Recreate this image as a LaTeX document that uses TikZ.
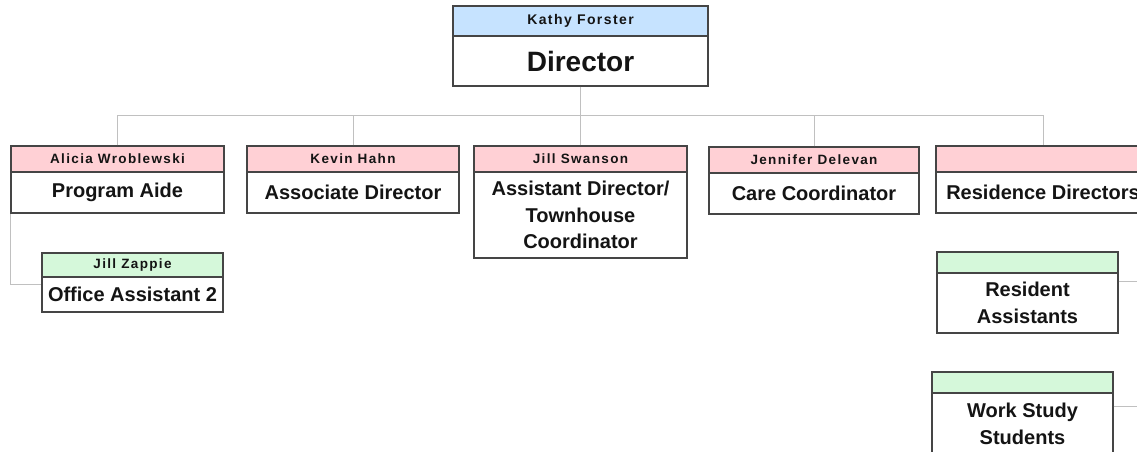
\documentclass[tikz,border=0pt]{standalone}
\usepackage{fontspec}
\setmainfont{Liberation Sans}
\newfontfamily\namefont[LetterSpace=10]{Liberation Sans}
\definecolor{hblue}{HTML}{C6E3FF}
\definecolor{hpink}{HTML}{FFD0D5}
\definecolor{hgreen}{HTML}{D5F8DA}
\definecolor{bordc}{HTML}{454545}
\definecolor{linkc}{HTML}{C0C0C0}
\definecolor{txtc}{HTML}{141414}
\tikzset{
  hdr/.style={draw=bordc, line width=1.3pt, inner sep=0pt, text=txtc,
    font=\namefont\bfseries\fontsize{13.5}{15}\selectfont},
  bodybox/.style={draw=bordc, line width=1.3pt, fill=white, inner sep=0pt, align=center, text=txtc,
    font=\bfseries\fontsize{20}{26.5}\selectfont},
  link/.style={draw=linkc, line width=1pt},
}
\newcommand\orgbox[9]{%
  \node[hdr, fill=#7, minimum width={#3-#2}, minimum height={#5-#4}] (#1-h) at ({(#2+#3)/2},{(#4+#5)/2}) {#8};
  \node[bodybox, minimum width={#3-#2}, minimum height={#6-#5}] (#1) at ({(#2+#3)/2},{(#5+#6)/2}) {#9};
}
\begin{document}
\begin{tikzpicture}[x=1pt,y=-1pt]
\useasboundingbox (0,0) rectangle (1137,451);
\clip (0,0) rectangle (1137,451);
\coordinate (bus) at (0,115);
\coordinate (raEnd) at (1140,281);
\coordinate (wsEnd) at (1140,406);
% boxes
\orgbox{dir}{453}{708}{6}{36}{86}{hblue}{\fontsize{14}{16}\selectfont Kathy Forster}{\fontsize{28}{30}\selectfont Director}
\orgbox{pa}{11}{224}{146}{172}{213}{hpink}{Alicia Wroblewski}{Program Aide}
\orgbox{ad}{247}{459}{146}{172}{213}{hpink}{Kevin Hahn}{Associate Director}
\orgbox{asd}{474}{687}{146}{172}{258}{hpink}{Jill Swanson}{Assistant Director/\\Townhouse\\Coordinator}
\orgbox{cc}{709}{919}{147}{173}{214}{hpink}{Jennifer Delevan}{Care Coordinator}
\orgbox{rd}{936}{1150}{146}{172}{213}{hpink}{}{Residence Directors}
\orgbox{oa}{42}{223}{253}{277}{312}{hgreen}{Jill Zappie}{Office Assistant 2}
\orgbox{ra}{937}{1118}{252}{273}{333}{hgreen}{}{Resident\\Assistants}
\orgbox{ws}{932}{1113}{372}{393}{455}{hgreen}{}{Work Study\\Students}
% connectors
\draw[link] (dir.south) -- (dir.south |- bus);
\draw[link] (pa-h.north) -- (pa-h.north |- bus) -- (rd-h.north |- bus) -- (rd-h.north);
\draw[link] (ad-h.north) -- (ad-h.north |- bus);
\draw[link] (asd-h.north) -- (asd-h.north |- bus);
\draw[link] (cc-h.north) -- (cc-h.north |- bus);
\draw[link] (pa.south west) |- ([yshift=-8pt]oa.north west);
\draw[link] (ra.east |- raEnd) -- (raEnd);
\draw[link] (ws.east |- wsEnd) -- (wsEnd);
\end{tikzpicture}
\end{document}
